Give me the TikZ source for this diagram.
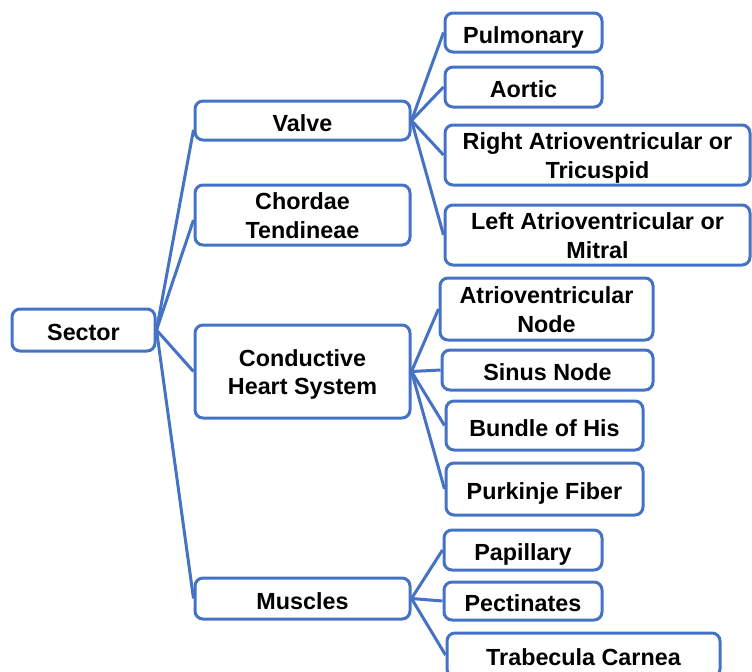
\documentclass[tikz,border=0pt]{standalone}
\usepackage{fontspec}
\setmainfont{Liberation Sans}
\definecolor{lineblue}{RGB}{68,114,196}
\begin{document}
\begin{tikzpicture}[x=0.75pt,y=-0.75pt,
  box/.style={draw=lineblue, line width=2.25pt, rounded corners=6pt, fill=white,
    align=center, inner sep=0pt,
    font=\fontsize{17.5}{21.5}\selectfont\bfseries,
    % struts give every box the same text height and depth
    execute at begin node={\rule{0pt}{1.15em}},
    execute at end node={\rule[-0.25em]{0pt}{0.25em}}},
  twoline/.style={execute at begin node={\rule{0pt}{2.26em}}},
  sz/.style 2 args={minimum width=#1*0.75pt, minimum height=#2*0.75pt},
  link/.style={draw=lineblue, line width=2.25pt}]
\useasboundingbox (0,0) rectangle (752,671);
\clip (0,0) rectangle (752,671);

% root
\node[box, sz={143}{42}] (sector) at (83.5,330) {Sector};

% first level
\node[box, sz={215}{39}] (valve) at (302.5,120.5) {Valve};
\node[box, twoline, sz={215}{60}] (chordae) at (302.5,215) {Chordae\\Tendineae};
\node[box, twoline, sz={215}{93}] (conduct) at (302.5,371.5) {Conductive\\Heart System};
\node[box, sz={215}{41}] (muscles) at (302.5,598.5) {Muscles};

% valves
\node[box, sz={157}{39}] (pulm) at (523.5,32.5) {Pulmonary};
\node[box, sz={157}{40}] (aortic) at (523.5,87) {Aortic};
\node[box, twoline, sz={305}{60}] (rightav) at (597.5,155) {Right Atrioventricular or\\Tricuspid};
\node[box, twoline, sz={305}{60}] (leftav) at (597.5,235) {Left Atrioventricular or\\Mitral};

% conductive system
\node[box, twoline, sz={213}{62}] (avnode) at (546.5,309) {Atrioventricular\\Node};
\node[box, sz={211}{40}] (sinus) at (547.5,370) {Sinus Node};
\node[box, sz={197}{49}] (bundle) at (544.5,425.5) {Bundle of His};
\node[box, sz={197}{52}] (purkinje) at (544.5,489) {Purkinje Fiber};

% muscles
\node[box, sz={158}{40}] (papillary) at (523,550) {Papillary};
\node[box, sz={158}{38}] (pectin) at (523,601) {Pectinates};
\node[box, sz={273}{44}] (trabec) at (583.5,655) {Trabecula Carnea};

% connectors
\draw[link] (sector.east) -- ([yshift=-7pt]valve.west);
\draw[link] (sector.east) -- ([yshift=-3.75pt]chordae.west);
\foreach \c in {conduct,muscles}
  \draw[link] (sector.east) -- (\c.west);
\foreach \c in {pulm,aortic,rightav,leftav}
  \draw[link] (valve.east) -- (\c.west);
\foreach \c in {avnode,sinus,bundle,purkinje}
  \draw[link] (conduct.east) -- (\c.west);
\foreach \c in {papillary,pectin,trabec}
  \draw[link] (muscles.east) -- (\c.west);
\end{tikzpicture}
\end{document}
